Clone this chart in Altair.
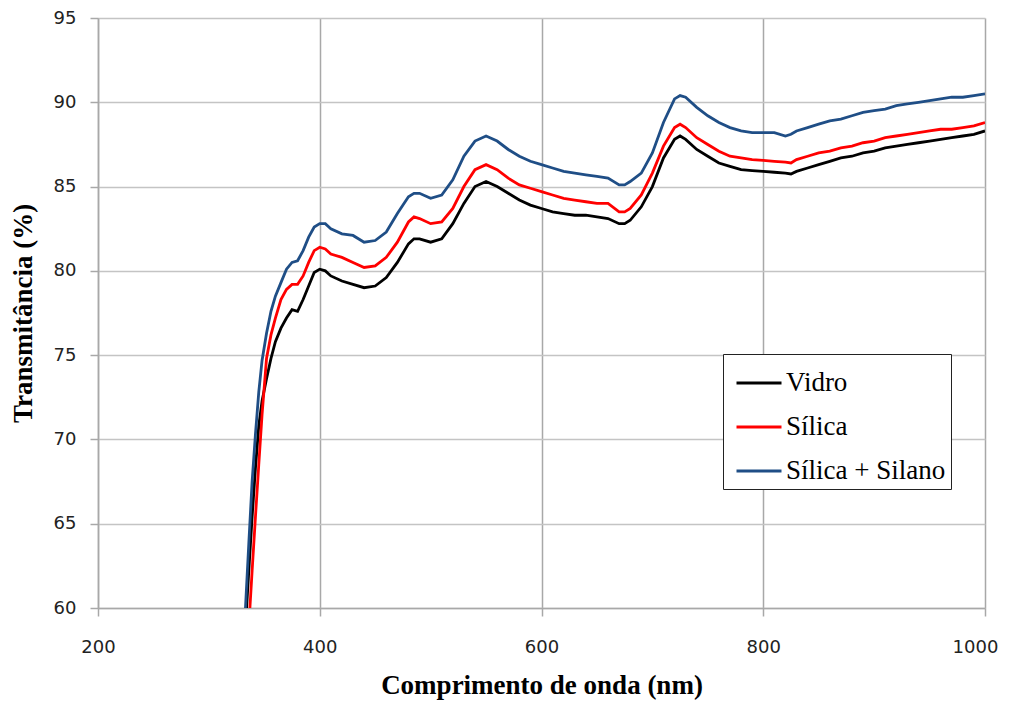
import altair as alt
import pandas as pd

wavelength = [333, 336, 339, 342, 345, 348, 352, 356, 360, 365, 370, 375, 380, 385, 390, 395,
              400, 405, 410, 420, 430, 440, 450, 460, 470, 480, 485, 490, 500, 510, 520, 530,
              540, 550, 560, 570, 580, 590, 600, 610, 620, 630, 640, 650, 660, 670, 675, 680,
              690, 700, 710, 720, 725, 730, 740, 750, 760, 770, 780, 790, 800, 810, 820, 825,
              830, 840, 850, 860, 870, 880, 890, 900, 910, 920, 930, 940, 950, 960, 970, 980,
              990, 1000]

vidro = [58.9, 62.2, 65.4, 68.3, 70.8, 72.3, 73.6, 74.8, 75.8, 76.6, 77.2, 77.7, 77.6, 78.3, 79.1, 79.9,
         80.1, 80.0, 79.7, 79.4, 79.2, 79.0, 79.1, 79.6, 80.5, 81.6, 81.9, 81.9, 81.7, 81.9, 82.8, 84.0,
         85.0, 85.3, 85.0, 84.6, 84.2, 83.9, 83.7, 83.5, 83.4, 83.3, 83.3, 83.2, 83.1, 82.8, 82.8, 83.0,
         83.8, 85.0, 86.7, 87.8, 88.0, 87.8, 87.2, 86.8, 86.4, 86.2, 86.0, 85.95, 85.9, 85.85, 85.8, 85.75,
         85.9, 86.1, 86.3, 86.5, 86.7, 86.8, 87.0, 87.1, 87.3, 87.4, 87.5, 87.6, 87.7, 87.8, 87.9, 88.0,
         88.1, 88.3]

silica = [55.7, 58.9, 62.2, 65.4, 68.5, 71.5, 74.8, 76.2, 77.2, 78.3, 78.9, 79.2, 79.2, 79.7, 80.5, 81.2,
          81.4, 81.3, 81.0, 80.8, 80.5, 80.2, 80.3, 80.8, 81.7, 82.9, 83.2, 83.1, 82.8, 82.9, 83.7, 85.0,
          86.0, 86.3, 86.0, 85.5, 85.1, 84.9, 84.7, 84.5, 84.3, 84.2, 84.1, 84.0, 84.0, 83.5, 83.5, 83.7,
          84.5, 85.8, 87.4, 88.5, 88.7, 88.5, 87.9, 87.5, 87.1, 86.8, 86.7, 86.6, 86.55, 86.5, 86.45, 86.4,
          86.6, 86.8, 87.0, 87.1, 87.3, 87.4, 87.6, 87.7, 87.9, 88.0, 88.1, 88.2, 88.3, 88.4, 88.4, 88.5,
          88.6, 88.8]

silano = [60.0, 63.8, 67.5, 70.3, 72.8, 74.7, 76.3, 77.6, 78.5, 79.3, 80.1, 80.5, 80.6, 81.2, 82.0, 82.6,
          82.8, 82.8, 82.5, 82.2, 82.1, 81.7, 81.8, 82.3, 83.4, 84.4, 84.6, 84.6, 84.3, 84.5, 85.4, 86.8,
          87.7, 88.0, 87.7, 87.2, 86.8, 86.5, 86.3, 86.1, 85.9, 85.8, 85.7, 85.6, 85.5, 85.1, 85.1, 85.3,
          85.8, 87.0, 88.8, 90.2, 90.4, 90.3, 89.7, 89.2, 88.8, 88.5, 88.3, 88.2, 88.2, 88.2, 88.0, 88.1,
          88.3, 88.5, 88.7, 88.9, 89.0, 89.2, 89.4, 89.5, 89.6, 89.8, 89.9, 90.0, 90.1, 90.2, 90.3, 90.3,
          90.4, 90.5]

series_names = ["Vidro", "Sílica", "Sílica + Silano"]
series_colors = ["#000000", "#FF0000", "#1F4E86"]
x_ticks = [200, 400, 600, 800, 1000]
y_ticks = [60, 65, 70, 75, 80, 85, 90, 95]

rows = []
for name, vals in zip(series_names, [vidro, silica, silano]):
    for i, (w, v) in enumerate(zip(wavelength, vals)):
        rows.append({"wl": w, "T": v, "serie": name, "idx": i})
df = pd.DataFrame(rows)

chart = alt.Chart(df).mark_line(strokeWidth=2.8, clip=True).encode(
    x=alt.X("wl:Q", scale=alt.Scale(domain=[200, 1000], nice=False, zero=False),
            axis=alt.Axis(values=x_ticks, format="d", labelFlush=False,
                          labelOffset={"condition": {"test": "datum.value == 1000", "value": -10},
                                       "value": 0},
                          title="Comprimento de onda (nm)", grid=True,
                          gridColor="#A8A8A8", gridWidth=1.5, tickColor="#A8A8A8", tickSize=8,
                          tickWidth=1.5, domainColor="#A8A8A8", domainWidth=1.5,
                          labelFont="DejaVu Sans", labelFontSize=18, labelColor="#222222",
                          labelPadding=22, titleFont="Liberation Serif", titleFontSize=27,
                          titleFontWeight="bold", titleColor="#000000", titlePadding=16)),
    y=alt.Y("T:Q", scale=alt.Scale(domain=[60, 95], nice=False, zero=False),
            axis=alt.Axis(values=y_ticks, labelFlush=False, title="Transmitância (%)", grid=True,
                          gridColor="#C4C4C4", gridWidth=1.5, tickColor="#A8A8A8", tickSize=8,
                          tickWidth=1.5, domainColor="#A8A8A8", domainWidth=1.5,
                          labelFont="DejaVu Sans", labelFontSize=18, labelColor="#222222",
                          labelPadding=14, titleFont="Liberation Serif", titleFontSize=27,
                          titleFontWeight="bold", titleColor="#000000", titlePadding=16)),
    color=alt.Color("serie:N", scale=alt.Scale(domain=series_names, range=series_colors),
                    legend=alt.Legend(title=None, orient="none", legendX=625, legendY=336,
                                      symbolType="stroke", symbolSize=2025, symbolStrokeWidth=3,
                                      symbolOffset=7,
                                      labelFont="Liberation Serif", labelFontSize=27,
                                      labelColor="#000000", labelOffset=3, rowPadding=7,
                                      padding=5, strokeColor="#222222", fillColor="#FFFFFF",
                                      labelLimit=400)),
    order="idx:Q",
    detail="serie:N",
).properties(
    width=887, height=590,
    padding={"left": 90, "top": 10, "right": 18, "bottom": 97},
    autosize="none",
).configure_view(strokeWidth=0).configure_axis(gridOpacity=1)

chart.save("out.html", embed_options={"renderer": "svg", "actions": False})
